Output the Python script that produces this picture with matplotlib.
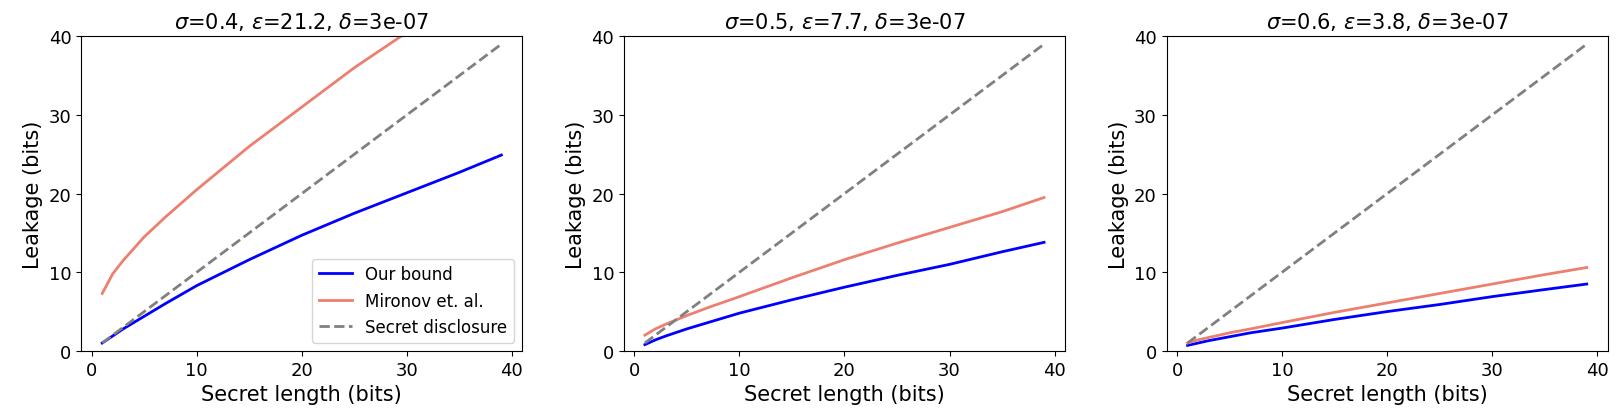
import matplotlib
matplotlib.use("Agg")
import matplotlib.pyplot as plt

x = [1, 2, 3, 5, 7, 10, 15, 20, 25, 30, 35, 39]
titles = [r"$\sigma$=0.4, $\epsilon$=21.2, $\delta$=3e-07",
          r"$\sigma$=0.5, $\epsilon$=7.7, $\delta$=3e-07",
          r"$\sigma$=0.6, $\epsilon$=3.8, $\delta$=3e-07"]
ours = [
    [1.0, 1.9, 2.8, 4.4, 6.0, 8.3, 11.6, 14.7, 17.5, 20.1, 22.7, 24.9],
    [0.8, 1.4, 1.9, 2.8, 3.6, 4.8, 6.5, 8.1, 9.6, 11.0, 12.6, 13.8],
    [0.7, 1.0, 1.3, 1.8, 2.3, 2.9, 4.0, 5.0, 5.9, 6.9, 7.8, 8.5],
]
mironov = [
    [7.3, 9.8, 11.5, 14.5, 17.0, 20.5, 26.0, 31.0, 36.0, 40.5, 45.0, 48.5],
    [2.0, 2.8, 3.4, 4.5, 5.5, 6.9, 9.3, 11.6, 13.7, 15.7, 17.7, 19.5],
    [1.0, 1.4, 1.7, 2.3, 2.8, 3.6, 4.9, 6.1, 7.3, 8.5, 9.7, 10.6],
]
disclosure = x

fig, axes = plt.subplots(1, 3, figsize=(16.24, 4.14), dpi=100)
for i, ax in enumerate(axes):
    ax.plot(x, ours[i], color="blue", lw=2, label="Our bound")
    ax.plot(x, mironov[i], color="#ec8070", lw=2, label="Mironov et. al.")
    ax.plot(x, disclosure, color="gray", lw=2, ls="--", label="Secret disclosure")
    ax.set_ylim(0, 40)
    ax.set_xlim(-1, 41)
    ax.set_xticks([0, 10, 20, 30, 40])
    ax.set_yticks([0, 10, 20, 30, 40])
    ax.tick_params(labelsize=13)
    ax.set_title(titles[i], fontsize=15)
    ax.set_xlabel("Secret length (bits)", fontsize=15)
    ax.set_ylabel("Leakage (bits)", fontsize=15)
axes[0].legend(loc="lower right", fontsize=12)
plt.subplots_adjust(left=0.05, right=0.99, bottom=0.15, top=0.91, wspace=0.23)
fig.savefig("out.png")
